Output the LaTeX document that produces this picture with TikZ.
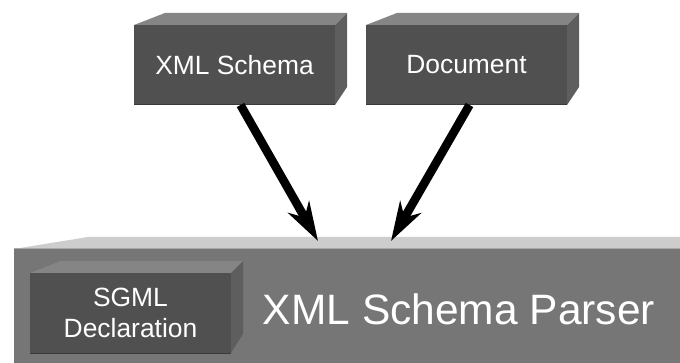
\documentclass[tikz,border=0pt]{standalone}
\usepackage{fontspec}
\setmainfont{Liberation Sans}
\usetikzlibrary{arrows.meta,calc}
\definecolor{frontdark}{HTML}{505050}
\definecolor{topdark}{HTML}{858585}
\definecolor{sidedark}{HTML}{5E5E5E}
\definecolor{edgedark}{HTML}{3A3A3A}
\definecolor{frontbig}{HTML}{767676}
\definecolor{topbig}{HTML}{CDCDCD}
\definecolor{edgebig}{HTML}{A8A8A8}
\tikzset{
  facebox/.style={fill=frontdark,text=white,inner sep=0pt,outer sep=0pt,minimum width=201pt,minimum height=80pt,align=center,font=\fontsize{26.4}{31}\selectfont},
  topface/.style={fill=topdark},
  sideface/.style={fill=sidedark},
  bottomedge/.style={draw=edgedark,line width=1pt},
  bigtop/.style={fill=topbig},
  bigfront/.style={fill=frontbig},
  bigedge/.style={draw=edgebig,line width=1pt},
  flow/.style={line width=8.6pt,-{Stealth[length=39pt,width=24pt,inset=12pt]}}
}
\begin{document}
\begin{tikzpicture}[x=1pt,y=-1pt]
\useasboundingbox (0,0) rectangle (680,363);
\fill[white] (0,0) rectangle (680,363);
% parser block
\path[bigtop] (14,249) -- (88,237) -- (680,237) -- (680,249) -- cycle;
\path[bigfront] (14,249) rectangle (680,363);
\draw[bigedge] (14,249) -- (680,249);
\node[text=white,anchor=base,inner sep=0pt,font=\fontsize{42.5}{48}\selectfont] (parser) at (459,325) {XML Schema Parser};
\coordinate (t1) at (318,241);
\coordinate (t2) at (391,241);
% XML Schema box
\path[topface] (134,25) -- (165,13) -- (347,13) -- (335,25) -- cycle;
\path[sideface] (335,25) -- (347,13) -- (347,87) -- (335,105) -- cycle;
\node[facebox] (xml) at (234.5,65) {XML Schema};
\draw[bottomedge] (xml.south west) -- (xml.south east);
% Document box
\path[topface] (366,25) -- (397,13) -- (579,13) -- (567,25) -- cycle;
\path[sideface] (567,25) -- (579,13) -- (579,87) -- (567,105) -- cycle;
\node[facebox] (doc) at (466.5,65) {Document};
\draw[bottomedge] (doc.south west) -- (doc.south east);
% SGML box
\path[topface] (30,273) -- (61,261) -- (243,261) -- (231,273) -- cycle;
\path[sideface] (231,273) -- (243,261) -- (243,334) -- (231,353) -- cycle;
\node[facebox] (sgml) at (130.5,313) {SGML\\Declaration};
\draw[bottomedge] (sgml.south west) -- (sgml.south east);
% connectors
\coordinate (s1) at ($(xml.south)+(6,0)$);
\coordinate (s2) at ($(doc.south)+(3,0)$);
\draw[flow] (s1) -- (t1);
\draw[flow] (s2) -- (t2);
\end{tikzpicture}
\end{document}
